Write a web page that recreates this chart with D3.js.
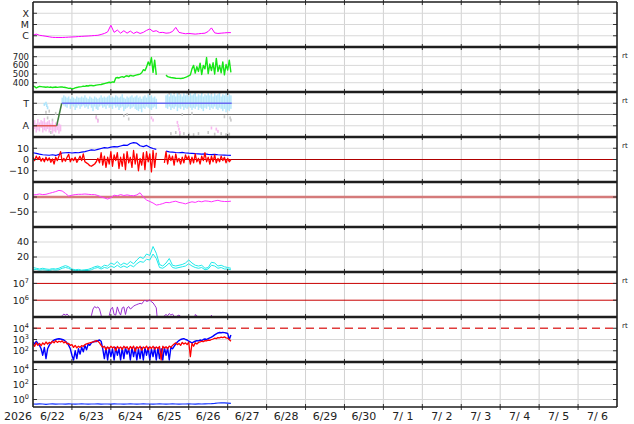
<!DOCTYPE html>
<html>
<head>
<meta charset="utf-8">
<script src="https://cdn.jsdelivr.net/npm/d3@7"></script>
<style>
  body { margin: 0; background: #fff; }
  text { font-family: "DejaVu Sans", sans-serif; fill: #222; }
</style>
</head>
<body>
<div id="chart"></div>
<script>
// ---- time axis ----
const yearLabel = "2026";
const dayLabels = ["6/22","6/23","6/24","6/25","6/26","6/27","6/28","6/29","6/30","7/ 1","7/ 2","7/ 3","7/ 4","7/ 5","7/ 6"];
const hours1 = d3.range(0, 123);      // hourly samples from 6/22 00:00
const hours2 = d3.range(0, 123, 2);   // 2-hourly samples

// ---- panel 1: X-ray flux (W/m2) ----
const xrayTicks = [1e-6, 1e-5, 1e-4];
const xrayTickLabels = ["C", "M", "X"];
const xray = [1.1e-6,1.4e-6,1.1e-6,1.0e-6,9e-7,8e-7,7.2e-7,7e-7,7e-7,7e-7,
  7.2e-7,7.5e-7,7.8e-7,8e-7,8.5e-7,8.8e-7,9.2e-7,9.5e-7,1.0e-6,1.05e-6,
  1.1e-6,1.3e-6,1.6e-6,2.2e-6,8.5e-6,2.0e-6,3.2e-6,1.7e-6,2.8e-6,1.7e-6,
  2.6e-6,1.6e-6,2.2e-6,1.6e-6,2.0e-6,3.0e-6,4.0e-6,2.4e-6,2.8e-6,1.9e-6,
  2.0e-6,1.7e-6,1.8e-6,2.4e-6,5.5e-6,2.0e-6,1.7e-6,1.5e-6,1.6e-6,1.5e-6,
  1.4e-6,1.5e-6,1.6e-6,1.7e-6,2.4e-6,5.0e-6,1.8e-6,1.6e-6,1.7e-6,1.8e-6,
  1.9e-6,1.9e-6];

// ---- panel 2: solar wind speed (km/s), hourly ----
const speedTicks = [400, 500, 600, 700];
const speed = [362,355,340,350,358,355,352,
  350,348,352,347,350,345,348,350,346,349,352,350,347,345,
  340,335,338,330,332,340,
  345,350,352,355,360,358,
  365,362,368,370,365,368,372,375,
  378,380,385,390,395,400,405,400,
  410,405,455,460,455,465,470,462,475,480,470,485,480,478,
  485,490,495,500,515,550,540,580,640,600,690,520,660,490,
  null,null,null,null,null,
  490,470,465,460,458,455,452,450,450,448,452,455,462,470,480,
  490,560,600,510,585,530,625,495,600,560,690,505,615,540,630,500,680,530,600,515,640,490,610,545,660,520];

// ---- panel 3: IMF sector polarity (T = +1, A = -1) ----
const polTicks = [1, -1];
const polTickLabels = ["T", "A"];
const polHours = d3.range(18, 123);
const towardLo = [1.0,0.8,0.7,0.6,0.9,0.5,0.8,0.7,0.4,0.6,
  0.8,0.5,0.7,0.8,0.6,0.7,0.5,0.8,0.6,0.3,
  0.7,0.5,0.4,0.7,0.8,0.6,0.7,0.5,0.8,0.6,
  0.7,0.5,0.8,0.6,0.7,0.4,0.6,0.7,0.3,0.5,
  0.6,0.7,0.5,0.6,0.7,0.5,0.4,0.3,0.5,0.2,
  0.6,0.5,0.7,0.6,0.5,0.4,0.6,0.7,0.5,null,
  null,null,null,null,0.6,0.5,0.7,0.4,0.6,0.5,
  0.7,0.3,0.6,0.5,0.7,0.4,0.6,0.5,0.7,0.6,
  0.4,0.6,0.5,0.7,0.4,0.6,0.5,0.3,0.6,0.5,
  0.7,0.4,0.6,0.5,0.7,0.5,0.4,0.6,0.5,0.3,
  0.5,0.2,0.4,0.3,0.5];
const towardHi = [1.5,1.7,1.6,1.5,1.6,1.4,1.6,1.5,1.4,1.6,
  1.5,1.5,1.6,1.5,1.7,1.5,1.4,1.6,1.5,1.4,
  1.6,1.5,1.4,1.5,1.7,1.5,1.6,1.5,1.6,1.7,
  1.5,1.6,1.5,1.7,1.6,1.5,1.6,1.8,1.5,1.4,
  1.6,1.5,1.6,1.7,1.5,1.6,1.7,1.5,1.6,1.4,
  1.6,1.7,1.5,1.8,1.6,1.7,1.5,1.6,1.4,null,
  null,null,null,null,1.7,1.8,1.6,1.9,1.7,1.8,
  1.6,1.9,1.7,1.8,1.6,1.9,1.7,1.8,1.6,1.9,
  1.7,1.8,1.9,1.6,1.8,1.7,1.9,1.6,1.8,1.7,
  1.9,1.7,1.8,1.6,1.9,1.7,1.8,1.9,1.6,1.8,
  1.7,1.9,1.6,1.8,1.7];
const awayHours = d3.range(0, 18);
const awayLo = [-1.5,-1.3,-1.6,-1.4,-1.5,-1.2,-1.6,-1.4,-1.5,-1.3,-1.6,-1.4,-1.7,-1.5,-1.6,-1.4,-1.7,-1.5];
const awayHi = [-0.6,-0.5,-0.8,-0.4,-0.7,-0.5,-0.6,-0.3,-0.7,-0.6,-0.5,-0.8,-0.6,-0.9,-0.7,-0.6,-0.8,-0.9];
const grayPolH = [8,9,10,11,12,13,14, 39,40,56,58,59, 84,87,90,95,100,104,110,115,120,
  85,88,90.5,93,96,99,102,108,112,116,119,121, 92,98,118,121.5,122];
const grayPolV = [0.2,-0.3,0.3,-1.6,-0.5,-1.9,0.1, -0.2,-0.5,-0.1,0.0,-0.4, 1.9,1.95,1.9,1.95,1.9,1.95,1.9,1.95,1.9,
  -1.7,-1.6,-1.8,-1.7,-1.75,-1.8,-1.7,-1.6,-1.75,-1.7,-1.8,-1.75, 0.0,0.1,-0.2,-0.3,-0.5];
const pinkPolH = [39,40,73,74,89,89.5,90,90.5,110,113,114];
const pinkPolV = [-0.3,-0.6,-0.3,-0.5,-0.7,-1.0,-1.3,-1.6,-1.2,-1.3,-1.5];
const bluePolH = [7,8,8.5,9];
const bluePolV = [0.9,1.0,0.8,0.6];
const sectorHours = [0, 14.6, 17.7, 122.5];
const sectorPol = [-1, -1, 1, 1];

// ---- panel 4: IMF Bt (2-hourly) and Bz (hourly), nT ----
const imfTicks = [10, 0, -10];
const bt = [6.0,5.5,4.8,4.2,4.0,3.8,4.2,3.6,4.5,5.8,
  6.0,6.2,5.8,6.1,6.0,6.5,7.0,7.8,8.5,8.2,
  9.0,9.8,10.5,10.2,11.0,11.5,11.2,12.0,12.8,12.5,
  14.2,15.0,14.5,12.2,11.5,12.5,10.8,9.8,9.0,null,
  null,7.5,6.8,6.5,6.2,6.0,6.3,5.8,5.6,5.5,
  5.2,5.0,4.8,5.0,4.6,4.4,4.5,4.2,4.0,3.9,
  3.8,3.7];
const bz = [2,-1,3,0,2.5,-1.5,1,-2,2,-1,
  1.5,-2.5,0.5,-4,2,-1,3,7,-2,1,
  -1.5,2,4.5,-2,1,-1,2,-2.5,0,3,
  -1,5,-2,-3,-4,-5.5,-6,-5,-4,-2,
  1,-3,6,-5,3,-7,2,-4,7,-6,
  4,-1,6,-8,2,-6,5,-9,7,-3,
  2,-7,8,-4,5,-10,1,-5,6,-9,
  7,-2,5,-11,8,-7,6,null,null,null,
  null,-3,7,-4,4,-1,3,-5,5,-2,
  1,-4,2,-3,4,0,3,-4,2,-3,
  5,-2,1,-4,3,-1,6,-2,2,-4,
  3,-2,4,-3,1,-2,3,-1,2,-3,
  1,-2,0];

// ---- panel 5: Dst (nT), 2-hourly ----
const dstTicks = [0, -50];
const dst = [7,8,10,8,9,12,15,18,22,20,
  12,3,6,8,9,9,10,9,8,8,
  5,0,-3,-7,-2,6,4,8,5,7,
  5,4,7,14,0,-10,-15,-20,-27,-25,
  -22,-18,-19,-16,-14,-18,-20,-23,-19,-16,
  -18,-14,-16,-13,-14,-16,-13,-11,-14,-15,
  -15,-14];

// ---- panel 6: two cyan traces, 2-hourly ----
const cyanTicks = [40, 20];
const cyanHi = [6,5,4,5,4,3.5,4.5,4,5,7,
  8.5,7,4,3,3.5,2.5,3,3.5,5,7,
  8,6,9,8,12,10,14,9,12,10,
  14,11,16,20,18,24,22,34,25,10,
  8,12,18,9,8,9,10,12,16,12,
  9,8,9,5,6,13,12,8,9,7,
  6,5];
const cyanLo = [3,3.5,2.5,3,2.5,2,3,2.5,3,5,
  6,5,2.5,2,2,1.5,2,2,3,5,
  6,4,6,5,8,6,9,6,8,6,
  9,7,11,14,13,17,16,24,18,6,
  5,8,12,6,5,6,7,8,11,8,
  6,5,6,3,4,9,8,5,6,4,
  4,3];

// ---- panel 7: electron flux, hourly ----
const elecTickExp = [7, 6];
const electron = [3e4,3e4,3e4,3e4,3e4,3e4,3e4,3e4,3e4,3e4,3e4,3e4,3e4,3e4,3e4,3e4,3e4,3e4,
  1.2e5,1.5e5,1.3e5,1.5e5,1.2e5,3e4,
  3e4,3e4,3e4,3e4,3e4,3e4,3e4,3e4,3e4,3e4,3e4,3e4,
  1.2e5,3e5,4.2e5,3.5e5,4e5,3e5,1.3e5,3e4,
  3e4,3e4,3e4,
  1.2e5,3e5,3.8e5,1.4e5,1.3e5,4e5,2e5,1.3e5,3.5e5,4e5,1.4e5,3.5e5,4.2e5,3e5,3.5e5,4.5e5,
  5e5,5.5e5,6e5,6.5e5,6e5,8e5,1.0e6,8.5e5,9e5,1.05e6,8e5,7e5,5e5,3.5e5,3e4,
  3e4,3e4,3e4,
  1.2e5,1.4e5,1.2e5,1.6e5,1.3e5,1.5e5,1.1e5,3e4,1.2e5,1.3e5,1.1e5,
  3e4,3e4,3e4,3e4,3e4,3e4,3e4,3e4,
  1.4e5,1.2e5,
  3e4,3e4,3e4,3e4,3e4,3e4,3e4,3e4,
  1.3e5,
  3e4,3e4,3e4,3e4,3e4,3e4,3e4,3e4,3e4,3e4,3e4,3e4];

// ---- panel 8: proton flux, hourly ----
const protTickExp = [4, 3, 2];
const protonRed = [400,250,500,300,450,280,500,350,600,400,
  550,450,700,500,800,550,700,600,750,500,
  650,400,450,300,350,200,300,180,250,200,
  280,250,350,400,450,500,550,600,650,800,
  700,500,300,200,250,120,220,150,250,180,
  230,100,240,160,220,130,250,170,230,120,
  240,150,260,90,230,160,250,110,220,170,
  260,120,230,160,250,140,220,160,240,15,
  250,170,230,150,260,200,300,400,500,350,
  450,300,550,400,500,350,600,30,450,250,
  500,400,550,600,700,650,800,750,900,850,
  1000,1100,1300,1200,1500,1400,1600,1500,1700,1400,
  1300,1000,700];
const protonBlue = [600,400,700,450,300,150,40,200,20,150,
  300,500,700,900,1000,1100,1150,1100,1000,900,
  700,500,300,150,40,15,100,20,150,50,
  200,80,300,120,400,300,500,600,700,650,
  800,900,700,150,20,200,15,180,30,150,
  15,200,40,150,15,180,20,200,50,150,
  15,200,30,180,15,150,20,200,15,180,
  40,200,15,150,30,200,15,180,20,150,
  15,200,40,180,15,200,150,250,400,600,
  800,1000,1100,1200,1000,900,700,600,500,600,
  700,800,750,900,800,1000,1100,1000,1200,1400,
  1600,2000,2600,3200,3800,4200,4000,4300,4100,3800,
  3500,1000,2500];

// ---- panel 9: bottom trace, 2-hourly ----
const lowTickExp = [4, 2, 0];
const lowFlux = [0.25,0.24,0.26,0.25,0.23,0.25,0.26,0.24,0.25,0.25,
  0.24,0.26,0.25,0.24,0.25,0.26,0.25,0.24,0.25,0.25,
  0.26,0.24,0.25,0.25,0.24,0.26,0.25,0.25,0.24,0.25,
  0.26,0.25,0.24,0.25,0.26,0.25,0.25,0.24,0.25,0.26,
  0.25,0.24,0.25,0.26,0.25,0.24,0.25,0.25,0.26,0.25,
  0.24,0.26,0.25,0.26,0.27,0.28,0.30,0.34,0.36,0.35,
  0.33,0.30];

const rtPanels = [1, 2, 3, 6, 7];

// ---- layout ----
const width = 634, height = 424;
const left = 33, right = 617, top0 = 2, panelH = 45, nPanels = 9;
const t0 = Date.UTC(2026, 5, 22);
const hourDate = h => new Date(t0 + h * 3600e3);

const x = d3.scaleUtc().domain([hourDate(0), hourDate(360)]).range([left, right]);

const svg = d3.select("#chart").append("svg")
    .attr("width", width)
    .attr("height", height);

const panels = d3.range(nPanels).map(i => ({top: top0 + i * panelH, bottom: top0 + (i + 1) * panelH}));

const ys = [
  d3.scaleLog().domain([1e-7, 1e-3]),
  d3.scaleLinear().domain([293, 812]),
  d3.scaleLinear().domain([-2, 2]),
  d3.scaleLinear().domain([-20, 20]),
  d3.scaleLinear().domain([-100, 50]),
  d3.scaleLinear().domain([0, 60]),
  d3.scaleLog().domain([1e5, Math.pow(10, 7.68)]),
  d3.scaleLog().domain([10, 1e5]),
  d3.scaleLog().domain([0.1, 1e5])
];
ys.forEach((y, i) => y.range([panels[i].bottom, panels[i].top]));

// clip paths
const defs = svg.append("defs");
panels.forEach((p, i) => {
  defs.append("clipPath").attr("id", "clip" + i)
    .append("rect").attr("x", left).attr("y", p.top).attr("width", right - left).attr("height", panelH);
});
const layers = panels.map((p, i) => svg.append("g").attr("clip-path", `url(#clip${i})`));

// vertical day grid
const dayLines = d3.utcDay.range(hourDate(24), hourDate(360));
layers.forEach((g, i) => {
  g.selectAll(".vg").data(dayLines).join("line")
    .attr("x1", d => x(d)).attr("x2", d => x(d))
    .attr("y1", panels[i].top).attr("y2", panels[i].bottom)
    .attr("stroke", "#d2d2d2").attr("stroke-width", 1);
});

// horizontal grids + left labels (labels sit ~11 px apart, so keep them small)
function hgrid(i, vals, color, w, dash) {
  layers[i].selectAll(null).data(vals).join("line")
    .attr("x1", left).attr("x2", right)
    .attr("y1", d => ys[i](d)).attr("y2", d => ys[i](d))
    .attr("stroke", color).attr("stroke-width", w)
    .attr("stroke-dasharray", dash || null);
}
function labels(i, vals, texts, size) {
  svg.selectAll(null).data(vals).join("text")
    .attr("x", 29).attr("y", d => ys[i](d)).attr("dy", "0.36em")
    .attr("text-anchor", "end").attr("font-size", size || 9.5)
    .text((d, k) => texts[k]);
}
function powLabels(i, exps) {
  const t = svg.selectAll(null).data(exps).join("text")
    .attr("x", 29).attr("y", d => ys[i](Math.pow(10, d))).attr("dy", "0.36em")
    .attr("text-anchor", "end").attr("font-size", 9.5);
  t.append("tspan").text("10");
  t.append("tspan").attr("dy", -3.5).attr("font-size", 6.5).text(d => d);
}

hgrid(0, xrayTicks, "#d8d8d8", 1); labels(0, xrayTicks, xrayTickLabels);
hgrid(1, speedTicks, "#d8d8d8", 1); labels(1, speedTicks, speedTicks.map(String), 8.5);
hgrid(2, polTicks, "#d8d8d8", 1); hgrid(2, [0], "#6e6e6e", 1); labels(2, polTicks, polTickLabels);
hgrid(3, [10, -10], "#d8d8d8", 1); labels(3, imfTicks, ["10", "0", "\u221210"]);
hgrid(4, [-50], "#d8d8d8", 1); labels(4, dstTicks, ["0", "\u221250"]);
hgrid(5, cyanTicks, "#d8d8d8", 1); labels(5, cyanTicks, cyanTicks.map(String));
powLabels(6, elecTickExp);
hgrid(7, [1e3, 1e2], "#d8d8d8", 1); powLabels(7, protTickExp);
hgrid(8, [1e4, 1e2, 1], "#d8d8d8", 1); powLabels(8, lowTickExp);

// line helper
function drawLine(i, hours, vals, color, w) {
  const y = ys[i];
  const line = d3.line()
    .defined(d => d[1] != null)
    .x(d => x(hourDate(d[0])))
    .y(d => y(d[1]));
  layers[i].append("path")
    .datum(hours.map((h, k) => [h, vals[k]]))
    .attr("d", line)
    .attr("fill", "none")
    .attr("stroke", color)
    .attr("stroke-width", w)
    .attr("stroke-linejoin", "round");
}

// panel 1
drawLine(0, hours2, xray, "#ff00ff", 1);
// panel 2
drawLine(1, hours1, speed, "#16e616", 1.4);

// panel 3: polarity clouds
function bars(i, hours, lo, hi, color, op) {
  const y = ys[i];
  layers[i].selectAll(null).data(hours.map((h, k) => [h, lo[k], hi[k]]).filter(d => d[1] != null))
    .join("rect")
    .attr("x", d => x(hourDate(d[0])) - 0.75).attr("width", 1.5)
    .attr("y", d => y(d[2])).attr("height", d => y(d[1]) - y(d[2]))
    .attr("fill", color).attr("opacity", op);
}
function dots(i, hours, vals, color, h) {
  const y = ys[i];
  layers[i].selectAll(null).data(hours.map((t, k) => [t, vals[k]]))
    .join("rect")
    .attr("x", d => x(hourDate(d[0])) - 0.8).attr("width", 1.6)
    .attr("y", d => y(d[1]) - h / 2).attr("height", h)
    .attr("fill", color);
}
dots(2, grayPolH, grayPolV, "#c8c8c8", 3);
bars(2, polHours, towardLo, towardHi, "#aee4fb", 0.9);
bars(2, awayHours, awayLo, awayHi, "#f7b6ee", 0.9);
dots(2, pinkPolH, pinkPolV, "#f7b6ee", 3);
dots(2, bluePolH, bluePolV, "#aee4fb", 3);
const sectorColors = ["#e25a5a", "#3e7e3e", "#6a6af0"];
d3.pairs(d3.range(sectorHours.length)).forEach(([a, b], k) => {
  layers[2].append("line")
    .attr("x1", x(hourDate(sectorHours[a]))).attr("x2", x(hourDate(sectorHours[b])))
    .attr("y1", ys[2](sectorPol[a])).attr("y2", ys[2](sectorPol[b]))
    .attr("stroke", sectorColors[k]).attr("stroke-width", 1.5);
});

// panel 4
hgrid(3, [0], "#b00000", 1);
drawLine(3, hours2, bt, "#0000ff", 1.2);
drawLine(3, hours1, bz, "#ff0000", 1.3);

// panel 5
hgrid(4, [0], "#d47a7a", 2.5);
drawLine(4, hours2, dst, "#ff33ff", 1);

// panel 6
drawLine(5, hours2, cyanHi, "#1eeaea", 1);
drawLine(5, hours2, cyanLo, "#1eeaea", 1);

// panel 7
hgrid(6, [1e7, 1e6], "#c80000", 1);
drawLine(6, hours1, electron, "#9b30d0", 1);

// panel 8
hgrid(7, [1e4], "#e03c3c", 1.3, "8,5");
drawLine(7, hours1, protonBlue, "#0000ff", 1.4);
drawLine(7, hours1, protonRed, "#ff0000", 1.3);

// panel 9
drawLine(8, hours2, lowFlux, "#1030ff", 1.2);

// tick marks on borders
const bounds = panels.map(p => p.top).concat([panels[nPanels - 1].bottom]);
bounds.forEach(b => {
  svg.selectAll(null).data(dayLines).join("line")
    .attr("x1", d => x(d)).attr("x2", d => x(d))
    .attr("y1", b - 3).attr("y2", b + 3)
    .attr("stroke", "#333").attr("stroke-width", 1);
});
const tickSets = [xrayTicks, speedTicks, polTicks.concat([0]), [10, 0, -10], [0, -50], cyanTicks,
  [1e7, 1e6], [1e4, 1e3, 1e2], [1e4, 1e2, 1]];
tickSets.forEach((vals, i) => {
  svg.selectAll(null).data(vals).join("line")
    .attr("x1", right - 4).attr("x2", right)
    .attr("y1", d => ys[i](d)).attr("y2", d => ys[i](d))
    .attr("stroke", "#333").attr("stroke-width", 1);
  svg.selectAll(null).data(vals).join("line")
    .attr("x1", left).attr("x2", left + 4)
    .attr("y1", d => ys[i](d)).attr("y2", d => ys[i](d))
    .attr("stroke", "#333").attr("stroke-width", 1);
});

// panel borders
bounds.forEach((b, k) => {
  const outer = k === 0 || k === bounds.length - 1;
  svg.append("line")
    .attr("x1", left).attr("x2", right).attr("y1", b).attr("y2", b)
    .attr("stroke", "#1e1e1e").attr("stroke-width", outer ? 1.6 : 2.6);
});
[left, right].forEach(xx => {
  svg.append("line")
    .attr("x1", xx).attr("x2", xx).attr("y1", top0).attr("y2", bounds[bounds.length - 1])
    .attr("stroke", "#1e1e1e").attr("stroke-width", 1.6);
});

// right-side small labels
svg.selectAll(null).data(rtPanels).join("text")
  .attr("x", 622).attr("y", i => panels[i].top + 11)
  .attr("font-size", 7).attr("fill", "#444")
  .text("rt");

// x axis labels
svg.append("text").attr("x", 4).attr("y", 420).attr("font-size", 11).text(yearLabel);
svg.selectAll(null).data(dayLabels).join("text")
  .attr("x", (d, k) => x(hourDate(k * 24 + 12)))
  .attr("y", 420)
  .attr("text-anchor", "middle")
  .attr("font-size", 11)
  .style("white-space", "pre")
  .text(d => d);
</script>
</body>
</html>
